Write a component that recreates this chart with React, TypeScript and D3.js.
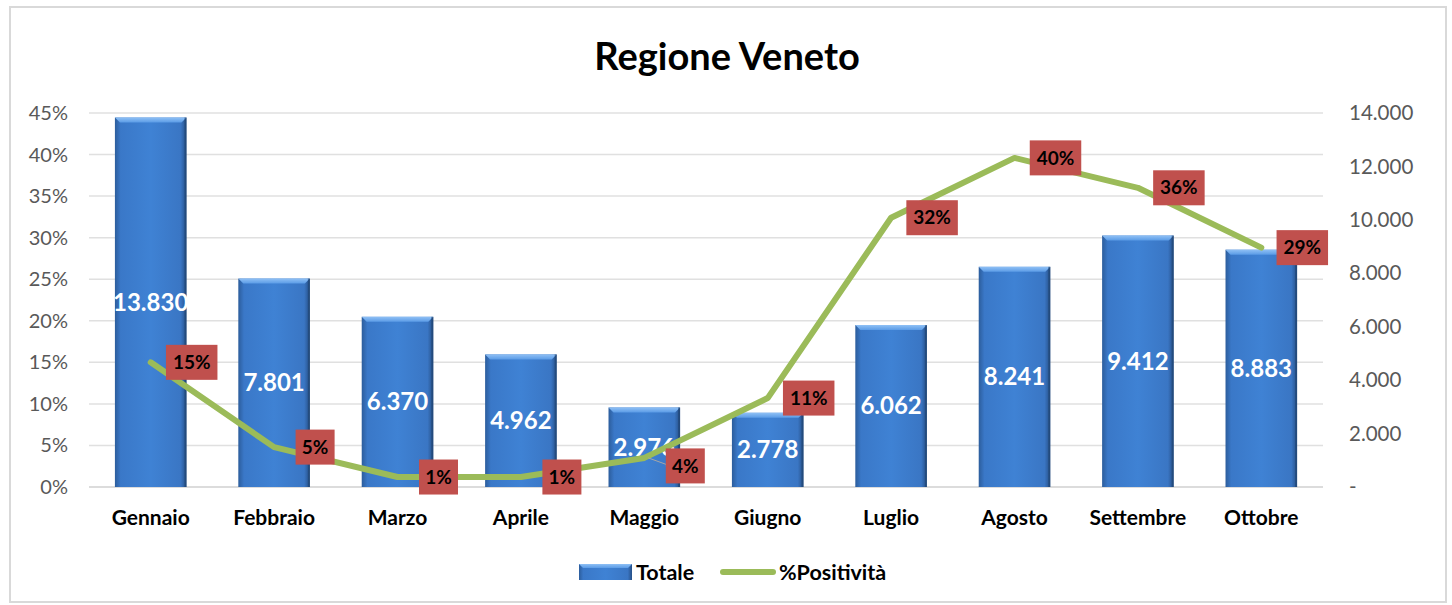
import React, { useEffect } from "react";
import * as d3 from "d3";

/* DATA */
const months = ["Gennaio", "Febbraio", "Marzo", "Aprile", "Maggio", "Giugno", "Luglio", "Agosto", "Settembre", "Ottobre"];
const totale = [13830, 7801, 6370, 4962, 2976, 2778, 6062, 8241, 9412, 8883];
const positivita = [0.15, 0.048, 0.012, 0.012, 0.035, 0.107, 0.324, 0.396, 0.36, 0.288];
const positivitaLabels = ["15%", "5%", "1%", "1%", "4%", "11%", "32%", "40%", "36%", "29%"];
const leftTicks = [0, 0.05, 0.1, 0.15, 0.2, 0.25, 0.3, 0.35, 0.4, 0.45];
const rightTicks = [0, 2000, 4000, 6000, 8000, 10000, 12000, 14000];

const itLocale = d3.formatLocale({ decimal: ",", thousands: ".", grouping: [3], currency: ["€", ""] });
const fmtNum = itLocale.format(",d");

const App = () => {
  useEffect(() => {
    document.body.style.margin = "0";
  }, []);

  /* SVG size */
  const width = 1452;
  const height = 605;
  const font = "Lato, 'Open Sans', sans-serif";

  /* Plot area */
  const left = 89;
  const right = 1323;
  const top = 113;
  const bottom = 487;

  const x = d3.scaleBand<string>().domain(months).range([left, right]).paddingInner(0.42).paddingOuter(0.21);
  const yL = d3.scaleLinear().domain([0, 0.45]).range([bottom, top]);
  const yR = d3.scaleLinear().domain([0, 14000]).range([bottom, top]);
  const cx = (m: string) => (x(m) as number) + x.bandwidth() / 2;

  const line = d3
    .line<number>()
    .x((_, i) => cx(months[i]))
    .y((d) => yL(d));

  const bw = x.bandwidth();
  const bevel = 5;

  return (
    <svg width={width} height={height} style={{ display: "block", background: "#fff" }}>
      <defs>
        <linearGradient id="barBody" x1="0" x2="1" y1="0" y2="0">
          <stop offset="0" stopColor="#2c5d9c" />
          <stop offset="0.08" stopColor="#3a78c8" />
          <stop offset="0.5" stopColor="#3f82d4" />
          <stop offset="0.92" stopColor="#3a76c4" />
          <stop offset="1" stopColor="#264f86" />
        </linearGradient>
        <linearGradient id="barTop" x1="0" x2="0" y1="0" y2="1">
          <stop offset="0" stopColor="#8fc0f5" />
          <stop offset="1" stopColor="#5a9be6" />
        </linearGradient>
      </defs>

      {/* chart border */}
      <rect x={10} y={7} width={1436} height={595} fill="none" stroke="#d9d9d9" strokeWidth={2} />

      {/* title */}
      <text x={727} y={70} textAnchor="middle" fontFamily={font} fontWeight="bold" fontSize={38} fill="#000">
        Regione Veneto
      </text>

      {/* gridlines */}
      {leftTicks.map((t) => (
        <line key={t} x1={left} x2={right} y1={yL(t)} y2={yL(t)} stroke={t === 0 ? "#d0d0d0" : "#e0e0e0"} strokeWidth={1.5} />
      ))}

      {/* left axis */}
      {leftTicks.map((t) => (
        <text key={t} x={68} y={yL(t)} dy="0.35em" textAnchor="end" fontFamily={font} fontSize={20} fill="#595959">
          {Math.round(t * 100)}%
        </text>
      ))}

      {/* right axis */}
      {rightTicks.map((t) => (
        <text key={t} x={1349} y={yR(t)} dy="0.35em" textAnchor="start" fontFamily={font} fontSize={20.5} fill="#595959">
          {t === 0 ? "-" : fmtNum(t)}
        </text>
      ))}

      {/* bars */}
      {months.map((m, i) => {
        const bx = x(m) as number;
        const by = yR(totale[i]);
        return (
          <g key={m}>
            <rect x={bx} y={by} width={bw} height={bottom - by} fill="url(#barBody)" />
            <polygon
              points={`${bx},${by} ${bx + bw},${by} ${bx + bw - bevel},${by + bevel} ${bx + bevel},${by + bevel}`}
              fill="url(#barTop)"
            />
            <rect x={bx + bw - 2} y={by} width={2} height={bottom - by} fill="#1f4572" opacity={0.6} />
            <text
              x={cx(m)}
              y={(by + bottom) / 2}
              dy="0.35em"
              textAnchor="middle"
              fontFamily={font}
              fontWeight="bold"
              fontSize={24}
              fill="#fff"
            >
              {fmtNum(totale[i])}
            </text>
          </g>
        );
      })}

      {/* positivity line */}
      <path d={line(positivita) as string} fill="none" stroke="#9bbb59" strokeWidth={6} strokeLinejoin="round" strokeLinecap="round" />

      {/* positivity labels */}
      {months.map((m, i) => {
        const px = cx(m);
        const py = yL(positivita[i]);
        const dyOff = m === "Maggio" ? 8 : 0;
        const lx = px + 41;
        const ly = py + dyOff;
        const w = positivitaLabels[i].length * 12.5 + 14;
        return (
          <g key={m}>
            {dyOff !== 0 && (
              <polyline points={`${px + 4},${py} ${px + 26},${ly} ${lx - w / 2},${ly}`} fill="none" stroke="#a6a6a6" strokeWidth={1} />
            )}
            <rect x={lx - w / 2} y={ly - 17.5} width={w} height={35} fill="#c0504d" />
            <text x={lx} y={ly} dy="0.35em" textAnchor="middle" fontFamily={font} fontWeight="bold" fontSize={19} fill="#000">
              {positivitaLabels[i]}
            </text>
          </g>
        );
      })}

      {/* category labels */}
      {months.map((m) => (
        <text key={m} x={cx(m)} y={518} dy="0.35em" textAnchor="middle" fontFamily={font} fontWeight="bold" fontSize={21} fill="#000">
          {m}
        </text>
      ))}

      {/* legend */}
      <g>
        <rect x={579} y={564} width={53} height={16} fill="url(#barBody)" />
        <polygon points="579,564 632,564 628,568 583,568" fill="url(#barTop)" />
        <text x={636} y={572} dy="0.35em" fontFamily={font} fontWeight="bold" fontSize={21.5} fill="#000">
          Totale
        </text>
        <line x1={723} x2={773} y1={572} y2={572} stroke="#9bbb59" strokeWidth={6} strokeLinecap="round" />
        <text x={779} y={572} dy="0.35em" fontFamily={font} fontWeight="bold" fontSize={21.5} fill="#000">
          %Positività
        </text>
      </g>
    </svg>
  );
};

export default App;
